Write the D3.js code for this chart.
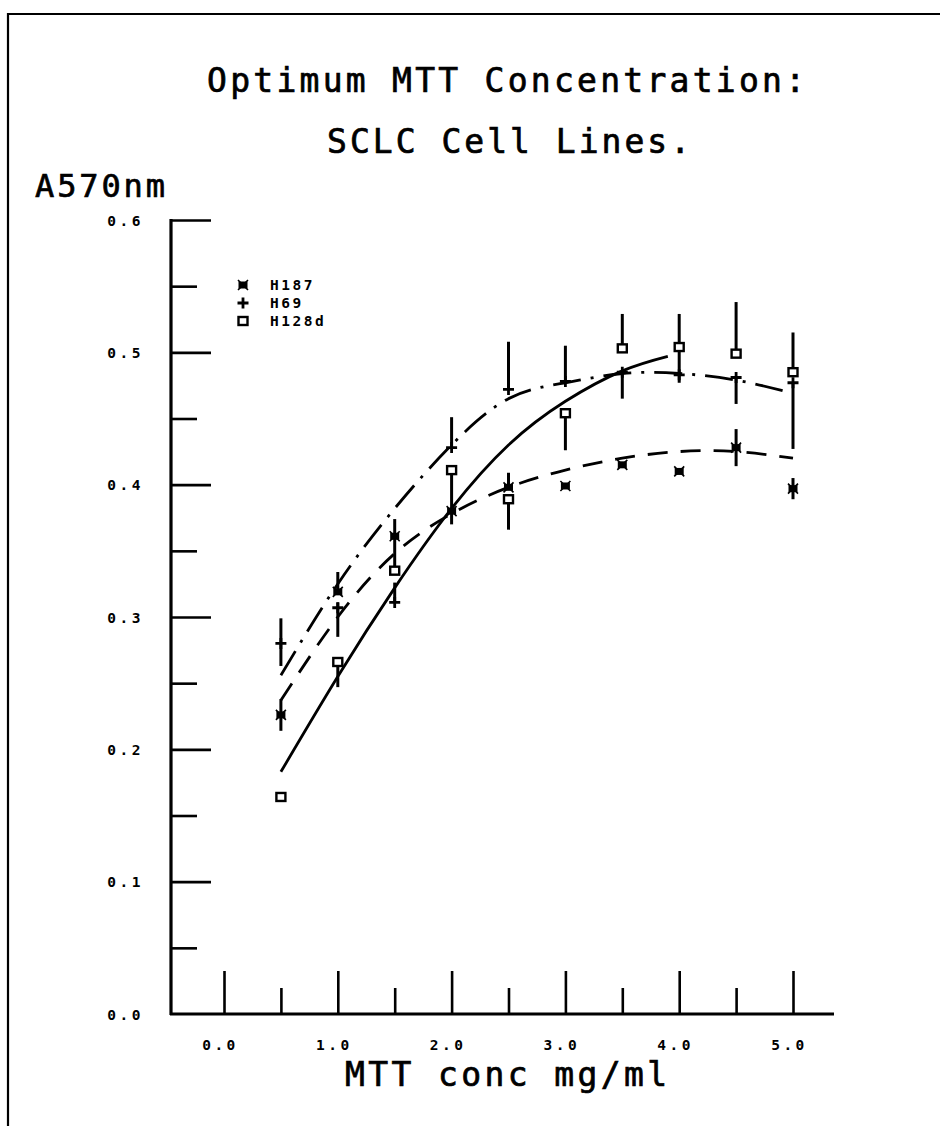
<!DOCTYPE html>
<html>
<head>
<meta charset="utf-8">
<script src="https://cdn.jsdelivr.net/npm/d3@7/dist/d3.min.js"></script>
<style>
  html, body { margin: 0; padding: 0; background: #fff; }
  svg { display: block; }
  .big { font-family: "DejaVu Sans Mono", monospace; fill: #000; stroke: #000; stroke-width: 0.7px; }
  .small { font-family: "DejaVu Sans Mono", monospace; font-weight: bold; fill: #000; }
</style>
</head>
<body>
<svg id="chart" width="940" height="1126"></svg>
<script>
// MTT concentration (mg/ml) at which each cell line was measured
const concentrations = [0.5, 1.0, 1.5, 2.0, 2.5, 3.0, 3.5, 4.0, 4.5, 5.0];

// Mean absorbance at 570 nm, with the plotted error bar extents above / below
const h187 =      [0.226, 0.319, 0.361, 0.380, 0.398, 0.399, 0.415, 0.410, 0.428, 0.397];
const h187Up =    [0.012, 0.015, 0.013, 0.000, 0.011, 0.000, 0.000, 0.000, 0.014, 0.008];
const h187Down =  [0.012, 0.000, 0.026, 0.010, 0.000, 0.000, 0.000, 0.000, 0.014, 0.008];

const h69 =       [0.280, 0.307, 0.311, 0.428, 0.472, 0.478, 0.485, 0.483, 0.481, 0.477];
const h69Up =     [0.019, 0.004, 0.015, 0.023, 0.036, 0.027, 0.000, 0.000, 0.000, 0.000];
const h69Down =   [0.017, 0.022, 0.000, 0.000, 0.000, 0.000, 0.020, 0.000, 0.020, 0.050];

const h128d =     [0.164, 0.266, 0.335, 0.411, 0.389, 0.454, 0.503, 0.504, 0.499, 0.485];
const h128dUp =   [0.000, 0.000, 0.000, 0.000, 0.000, 0.000, 0.026, 0.025, 0.039, 0.030];
const h128dDown = [0.000, 0.019, 0.000, 0.031, 0.023, 0.028, 0.000, 0.027, 0.000, 0.000];

// Fitted response curves
const fitX =       [0.5, 1.0, 1.5, 2.0, 2.5, 3.0, 3.5, 4.0, 4.5, 5.0];
const h187Fit =    [0.237, 0.300, 0.348, 0.378, 0.398, 0.411, 0.420, 0.425, 0.425, 0.420];
const h69Fit =     [0.256, 0.325, 0.382, 0.430, 0.465, 0.477, 0.484, 0.484, 0.479, 0.469];
const h128dFitX =  [0.5, 1.0, 1.5, 2.0, 2.5, 3.0, 3.5, 3.9];
const h128dFit =   [0.183, 0.255, 0.322, 0.382, 0.430, 0.463, 0.486, 0.497];

// Axis ticks and labels
const xMajorTicks = [0, 1, 2, 3, 4, 5];
const xMinorTicks = [0.5, 1.5, 2.5, 3.5, 4.5];
const yMajorTicks = [0, 0.1, 0.2, 0.3, 0.4, 0.5, 0.6];
const yMinorTicks = [0.05, 0.15, 0.25, 0.35, 0.45, 0.55];

const seriesNames = ["H187", "H69", "H128d"];
const titleLines = ["Optimum MTT Concentration:", "SCLC Cell Lines."];
const yTitle = "A570nm";
const xTitle = "MTT conc mg/ml";

const svg = d3.select("#chart");

// Frame around the figure
svg.append("path")
  .attr("d", "M8,1130 L8,14 L944,14")
  .attr("fill", "none").attr("stroke", "#000").attr("stroke-width", 2.2);

const x = d3.scaleLinear().domain([0, 5]).range([224, 793]);
const y = d3.scaleLinear().domain([0, 0.6]).range([1014, 220]);
const axisX0 = 171, axisXEnd = 834;

// Titles
svg.append("text").attr("class", "big")
  .attr("x", 207).attr("y", 92).attr("font-size", 33)
  .attr("textLength", 598).attr("lengthAdjust", "spacing")
  .text(titleLines[0]);
svg.append("text").attr("class", "big")
  .attr("x", 327).attr("y", 153).attr("font-size", 33)
  .attr("textLength", 363).attr("lengthAdjust", "spacing")
  .text(titleLines[1]);
svg.append("text").attr("class", "big")
  .attr("x", 35).attr("y", 197).attr("font-size", 32)
  .attr("textLength", 130).attr("lengthAdjust", "spacing")
  .text(yTitle);
svg.append("text").attr("class", "big")
  .attr("x", 345).attr("y", 1086).attr("font-size", 33)
  .attr("textLength", 322).attr("lengthAdjust", "spacing")
  .text(xTitle);

// Y axis: ticks point into the plot, labels to the left
const yAxisG = svg.append("g").attr("transform", `translate(${axisX0},0)`)
  .call(d3.axisLeft(y).tickValues(yMajorTicks).tickSizeInner(-40).tickSizeOuter(0)
        .tickPadding(27).tickFormat(d3.format(".1f")));
yAxisG.select(".domain").remove();
yAxisG.selectAll(".tick line").attr("stroke", "#000").attr("stroke-width", 2.6);
yAxisG.selectAll(".tick text").attr("class", "small").attr("font-size", 14.5)
  .attr("letter-spacing", 3.5).attr("dy", "0.35em");
yAxisG.selectAll(".tick").filter(d => d === 0).select("line").remove();

const yMinorG = svg.append("g").attr("transform", `translate(${axisX0},0)`)
  .call(d3.axisLeft(y).tickValues(yMinorTicks).tickSizeInner(-26).tickSizeOuter(0).tickFormat(""));
yMinorG.select(".domain").remove();
yMinorG.selectAll(".tick line").attr("stroke", "#000").attr("stroke-width", 2.6);

svg.append("line")
  .attr("x1", axisX0).attr("x2", axisX0).attr("y1", y(0) + 1).attr("y2", y(0.6) - 1)
  .attr("stroke", "#000").attr("stroke-width", 3.2);

// X axis: ticks point up, labels below
const xAxisG = svg.append("g").attr("transform", `translate(0,${y(0)})`)
  .call(d3.axisBottom(x).tickValues(xMajorTicks).tickSizeInner(-43).tickSizeOuter(0)
        .tickPadding(26).tickFormat(d3.format(".1f")));
xAxisG.select(".domain").remove();
xAxisG.selectAll(".tick line").attr("stroke", "#000").attr("stroke-width", 2.6);
xAxisG.selectAll(".tick text").attr("class", "small").attr("font-size", 14.5)
  .attr("letter-spacing", 3.5).attr("dx", -4);

const xMinorG = svg.append("g").attr("transform", `translate(0,${y(0)})`)
  .call(d3.axisBottom(x).tickValues(xMinorTicks).tickSizeInner(-26).tickSizeOuter(0).tickFormat(""));
xMinorG.select(".domain").remove();
xMinorG.selectAll(".tick line").attr("stroke", "#000").attr("stroke-width", 2.6);

svg.append("line")
  .attr("x1", axisX0 - 1).attr("x2", axisXEnd).attr("y1", y(0)).attr("y2", y(0))
  .attr("stroke", "#000").attr("stroke-width", 3);

// Fitted curves
const line = d3.line().x(d => x(d[0])).y(d => y(d[1])).curve(d3.curveNatural);
const fits = [
  { xs: fitX, ys: h187Fit, dash: "20,13" },
  { xs: fitX, ys: h69Fit, dash: "28,10,3,10" },
  { xs: h128dFitX, ys: h128dFit, dash: null }
];
fits.forEach(f => {
  svg.append("path")
    .datum(d3.zip(f.xs, f.ys))
    .attr("d", line)
    .attr("fill", "none").attr("stroke", "#000").attr("stroke-width", 2.8)
    .attr("stroke-dasharray", f.dash);
});

// Error bars
const series = [
  { name: seriesNames[0], vals: h187, up: h187Up, down: h187Down, marker: "filled" },
  { name: seriesNames[1], vals: h69, up: h69Up, down: h69Down, marker: "plus" },
  { name: seriesNames[2], vals: h128d, up: h128dUp, down: h128dDown, marker: "open" }
];
series.forEach(s => {
  const rows = concentrations.map((c, i) => ({ c, v: s.vals[i], up: s.up[i], down: s.down[i] }))
    .filter(r => r.up > 0 || r.down > 0);
  svg.append("g").selectAll("line").data(rows).join("line")
    .attr("x1", r => x(r.c)).attr("x2", r => x(r.c))
    .attr("y1", r => y(r.v + r.up)).attr("y2", r => y(r.v - r.down))
    .attr("stroke", "#000").attr("stroke-width", 3);
});

// Markers
function drawMarker(g, kind, cx, cy) {
  if (kind === "filled") {
    g.append("rect").attr("x", cx - 4.5).attr("y", cy - 3.5).attr("width", 9).attr("height", 7)
      .attr("fill", "#000");
    g.append("path").attr("d", `M${cx - 5},${cy - 5} L${cx + 5},${cy + 5} M${cx + 5},${cy - 5} L${cx - 5},${cy + 5}`)
      .attr("stroke", "#000").attr("stroke-width", 1.6);
  } else if (kind === "plus") {
    g.append("path").attr("d", `M${cx - 5.5},${cy} L${cx + 5.5},${cy} M${cx},${cy - 5.5} L${cx},${cy + 5.5}`)
      .attr("stroke", "#000").attr("stroke-width", 2.8);
  } else {
    g.append("rect").attr("x", cx - 4.5).attr("y", cy - 4).attr("width", 9).attr("height", 8)
      .attr("fill", "#fff").attr("stroke", "#000").attr("stroke-width", 2.4);
  }
}
series.forEach(s => {
  const g = svg.append("g");
  concentrations.forEach((c, i) => drawMarker(g, s.marker, x(c), y(s.vals[i])));
});

// Legend
const legendY = [285, 303, 321];
series.forEach((s, i) => {
  const g = svg.append("g");
  drawMarker(g, s.marker, 243, legendY[i]);
  g.append("text").attr("class", "small").attr("x", 270).attr("y", legendY[i])
    .attr("dy", "0.36em").attr("font-size", 14.5).attr("letter-spacing", 2.5)
    .text(s.name);
});
</script>
</body>
</html>
